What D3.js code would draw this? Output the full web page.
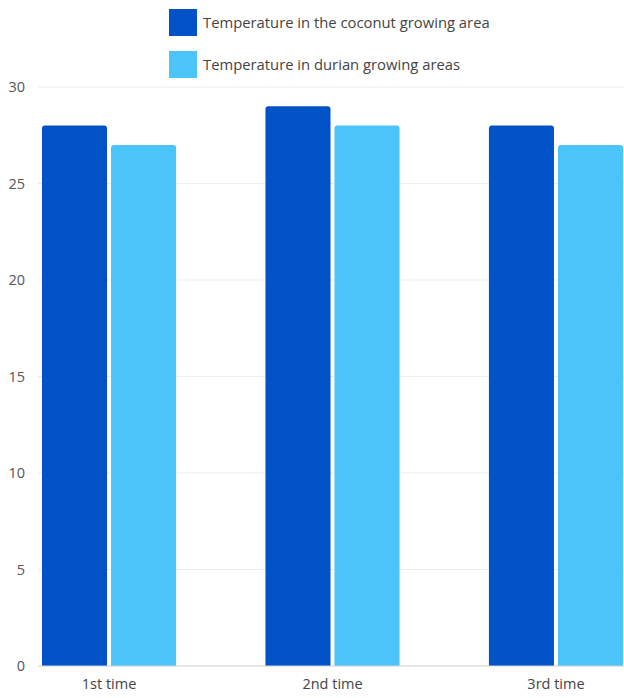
<!DOCTYPE html>
<html><head><meta charset="utf-8">
<script src="https://cdn.jsdelivr.net/npm/d3@7"></script>
<style>body{margin:0;background:#fff}svg{display:block}</style>
</head><body>
<svg id="c" width="624" height="698"></svg>
<script>
const categories = ["1st time", "2nd time", "3rd time"];
const seriesNames = ["Temperature in the coconut growing area", "Temperature in durian growing areas"];
const coconut = [28, 29, 28];
const durian = [27, 28, 27];
const yTicks = [0, 5, 10, 15, 20, 25, 30];
const colors = ["#0052C6", "#4BC4FA"];

const svg = d3.select("#c");
const font = "'Open Sans', 'Noto Sans', sans-serif";
const x0 = d3.scaleBand().domain(categories).range([42, 623]).paddingInner(0.4).paddingOuter(0);
const x1 = d3.scaleBand().domain([0, 1]).range([0, x0.bandwidth()]).paddingInner(0.058);
const y = d3.scaleLinear().domain([0, 30]).range([666, 87]);

// gridlines
svg.append("g").selectAll("line").data(yTicks.filter(d => d > 0)).join("line")
  .attr("x1", 38).attr("x2", 624)
  .attr("y1", d => y(d)).attr("y2", d => y(d))
  .attr("stroke", "#ececec").attr("stroke-width", 1);

// y axis labels
const yAxis = d3.axisLeft(y).tickValues(yTicks).tickSize(0).tickPadding(0);
const ya = svg.append("g").attr("transform", "translate(25,0)").call(yAxis);
ya.select(".domain").remove();
ya.selectAll("text").attr("font-family", font).attr("font-size", 14.5).attr("fill", "#555");

// bars
const data = categories.map((c, i) => ({c, vals: [coconut[i], durian[i]]}));
const g = svg.append("g").selectAll("g").data(data).join("g")
  .attr("transform", d => `translate(${x0(d.c)},0)`);
g.selectAll("path").data(d => d.vals.map((v, k) => ({v, k}))).join("path")
  .attr("fill", d => colors[d.k])
  .attr("d", d => {
    const xl = x1(d.k), w = x1.bandwidth(), yt = y(d.v), yb = y(0), r = 3;
    return `M${xl},${yb}V${yt + r}Q${xl},${yt} ${xl + r},${yt}H${xl + w - r}Q${xl + w},${yt} ${xl + w},${yt + r}V${yb}Z`;
  });

// zero line
svg.append("line").attr("x1", 38).attr("x2", 624).attr("y1", y(0)).attr("y2", y(0))
  .attr("stroke", "#cfcfcf").attr("stroke-width", 1.2);

// x axis labels
const xAxis = d3.axisBottom(x0).tickSize(0).tickPadding(0);
const xa = svg.append("g").attr("transform", `translate(0,${y(0) + 13})`).call(xAxis);
xa.select(".domain").remove();
xa.selectAll("text").attr("font-family", font).attr("font-size", 14.5).attr("fill", "#444").attr("dy", "0.71em");

// legend
const leg = svg.append("g").selectAll("g").data(seriesNames).join("g")
  .attr("transform", (d, i) => `translate(169,${9 + i * 42})`);
leg.append("rect").attr("width", 28).attr("height", 27).attr("fill", (d, i) => colors[i]);
leg.append("text").attr("x", 34).attr("y", 14).attr("dy", "0.35em")
  .attr("font-family", font).attr("font-size", 14.8).attr("fill", "#444").text(d => d);
</script>
</body></html>
